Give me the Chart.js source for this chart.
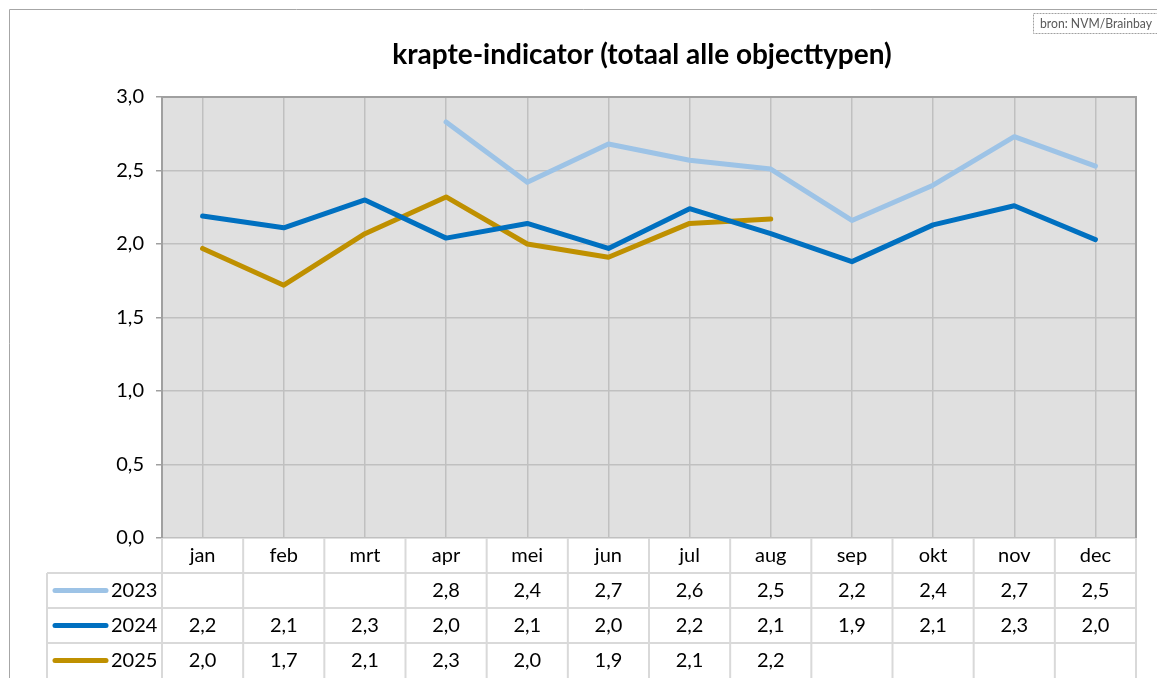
<!DOCTYPE html>
<html>
<head>
<meta charset="utf-8">
<script src="https://cdn.jsdelivr.net/npm/chart.js@4.4.1/dist/chart.umd.min.js"></script>
<style>
  html, body { margin: 0; padding: 0; background: #fff; }
  #wrap { position: relative; width: 1157px; height: 678px; }
</style>
</head>
<body>
<div id="wrap"><canvas id="chart" width="1157" height="678"></canvas></div>
<script>
const months = ["jan", "feb", "mrt", "apr", "mei", "jun", "jul", "aug", "sep", "okt", "nov", "dec"];
const years = ["2023", "2024", "2025"];
const values2023 = [null, null, null, 2.83, 2.42, 2.68, 2.57, 2.51, 2.16, 2.40, 2.73, 2.53];
const values2024 = [2.19, 2.11, 2.30, 2.04, 2.14, 1.97, 2.24, 2.07, 1.88, 2.13, 2.26, 2.03];
const values2025 = [1.97, 1.72, 2.07, 2.32, 2.00, 1.91, 2.14, 2.17, null, null, null, null];
const lineColors = ["#9dc3e6", "#0070c0", "#bf9000"];
const titleText = "krapte-indicator (totaal alle objecttypen)";
const sourceText = "bron: NVM/Brainbay";

const FONT = "Lato, 'Liberation Sans', sans-serif";
const allValues = [values2023, values2024, values2025];
const fmt = v => v.toFixed(1).replace(".", ",");

// draws plot background, frame, title, source box and the data table
const decor = {
  id: "decor",
  beforeDraw(chart) {
    const {ctx, chartArea: a} = chart;
    ctx.save();
    ctx.fillStyle = "#fff";
    ctx.fillRect(0, 0, chart.width, chart.height);
    ctx.fillStyle = "#e0e0e0";
    ctx.fillRect(a.left, a.top, a.right - a.left, a.bottom - a.top);
    ctx.restore();
  },
  afterDraw(chart) {
    const {ctx, chartArea: a} = chart;
    const x = chart.scales.x;
    ctx.save();

    // outer frame
    ctx.strokeStyle = "#a6a6a6";
    ctx.lineWidth = 1;
    ctx.beginPath();
    ctx.moveTo(9.5, chart.height);
    ctx.lineTo(9.5, 9.5);
    ctx.lineTo(chart.width, 9.5);
    ctx.stroke();

    // plot border top/right
    ctx.strokeStyle = "#a0a0a0";
    ctx.lineWidth = 2;
    ctx.beginPath();
    ctx.moveTo(a.left, a.top);
    ctx.lineTo(a.right, a.top);
    ctx.lineTo(a.right, a.bottom);
    ctx.stroke();

    // title
    ctx.fillStyle = "#000";
    ctx.font = "bold 28px " + FONT;
    ctx.textAlign = "center";
    ctx.textBaseline = "alphabetic";
    ctx.fillText(titleText, 642, 64);

    // source box (text squeezed to the box width)
    ctx.setLineDash([2, 1]);
    ctx.strokeStyle = "#a0a0a0";
    ctx.lineWidth = 1;
    ctx.strokeRect(1033.5, 13.5, 130, 20);
    ctx.setLineDash([]);
    ctx.fillStyle = "#595959";
    ctx.font = "14px " + FONT;
    ctx.textAlign = "left";
    const sw = ctx.measureText(sourceText).width;
    ctx.save();
    ctx.translate(1040, 28);
    ctx.scale(112 / sw, 1);
    ctx.fillText(sourceText, 0, 0);
    ctx.restore();

    // data table
    ctx.textBaseline = "middle";
    const rowH = 35;
    const top = a.bottom;
    const colW = (a.right - a.left) / months.length;
    const legLeft = 47;
    ctx.strokeStyle = "#d9d9d9";
    ctx.lineWidth = 2;
    ctx.beginPath();
    for (let i = 0; i <= months.length; i++) {
      const bx = a.left + i * colW;
      ctx.moveTo(bx, top);
      ctx.lineTo(bx, chart.height);
    }
    ctx.moveTo(legLeft, top + rowH);
    ctx.lineTo(legLeft, chart.height);
    for (let r = 1; r <= years.length; r++) {
      ctx.moveTo(legLeft, top + r * rowH);
      ctx.lineTo(a.right, top + r * rowH);
    }
    ctx.stroke();

    ctx.fillStyle = "#000";
    ctx.font = "20px " + FONT;
    ctx.textAlign = "center";
    months.forEach((m, i) => {
      ctx.fillText(m, x.getPixelForValue(i), top + rowH / 2);
    });
    years.forEach((yr, r) => {
      const cy = top + (r + 1) * rowH + rowH / 2;
      ctx.strokeStyle = lineColors[r];
      ctx.lineWidth = 5;
      ctx.lineCap = "round";
      ctx.beginPath();
      ctx.moveTo(55, cy);
      ctx.lineTo(106, cy);
      ctx.stroke();
      ctx.textAlign = "left";
      ctx.fillText(yr, 111, cy);
      ctx.textAlign = "center";
      allValues[r].forEach((v, i) => {
        if (v !== null) ctx.fillText(fmt(v), x.getPixelForValue(i), cy);
      });
    });
    ctx.restore();
  }
};

new Chart(document.getElementById("chart"), {
  type: "line",
  data: {
    labels: months,
    datasets: years.map((yr, i) => ({
      label: yr,
      data: allValues[i],
      borderColor: lineColors[i],
      borderWidth: 5,
      borderCapStyle: "round",
      borderJoinStyle: "round",
      pointRadius: 0,
      tension: 0,
      spanGaps: false
    }))
  },
  options: {
    responsive: false,
    animation: false,
    layout: { padding: { left: 0, top: 97, right: 21, bottom: 140 } },
    plugins: { legend: { display: false }, title: { display: false }, tooltip: { enabled: false } },
    scales: {
      x: {
        type: "category",
        offset: true,
        grid: { offset: false, color: "#c0c0c0", lineWidth: 1.5, drawTicks: false },
        border: { display: false },
        ticks: { display: false },
        afterFit(s) { s.height = 0; }
      },
      y: {
        min: 0,
        max: 3,
        ticks: {
          stepSize: 0.5,
          color: "#000",
          padding: 12,
          font: { family: FONT, size: 20 },
          callback: v => fmt(v)
        },
        grid: { color: "#c0c0c0", lineWidth: 1.5, tickLength: 6, tickColor: "#a0a0a0" },
        border: { color: "#a0a0a0", width: 2 },
        afterFit(s) { s.width = 162; }
      }
    }
  },
  plugins: [decor]
});
</script>
</body>
</html>
